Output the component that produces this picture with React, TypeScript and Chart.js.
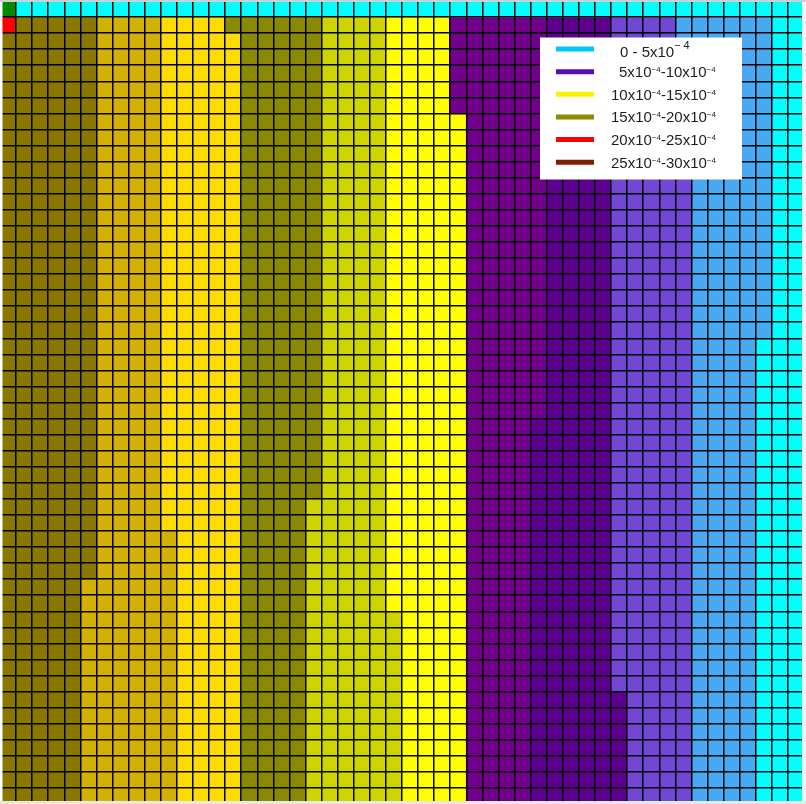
import React, { useEffect, useRef } from "react";
import { Chart, registerables } from "chart.js";

Chart.register(...registerables);

// Colour classes used in the grid (key -> colour)
const classKeys = ["c", "g", "r", "D", "G", "Y", "O", "L", "y", "p", "P", "m", "b"];
const classColors = [
  "#00FFFF", // c cyan
  "#008A00", // g green
  "#FF0000", // r red
  "#8A7700", // D dark olive
  "#D3B100", // G gold
  "#FFDC00", // Y golden yellow
  "#8A8A00", // O olive
  "#CDD400", // L yellow-green
  "#FFFF00", // y yellow
  "#72008A", // p purple
  "#5C008D", // P dark purple
  "#7147D3", // m medium purple
  "#48A9F2", // b light blue
];

// Row patterns (one letter per column, 50 columns; spaces only for readability)
const R0 = "g ccccc ccccc ccccc ccccc ccccc ccccc ccccc ccccc ccccc cccc";
const P1 = "r DDDDD GGGG YYYY OOOOOO LLLL yyyy pppppp PPPP mmmm bbbbbb cc";
const P2 = "DDDDDD GGGG YYYYY OOOOO LLLL yyyy pppppp PPPP mmmm bbbbbb cc";
const P3 = "DDDDDD GGGG YYYYY OOOOO LLLL yyyyy ppppp PPPP mmmm bbbbbb cc";
const P4 = "DDDDDD GGGG YYYYY OOOOO LLLL yyyyy ppppp PPPP mmmmm bbbbb cc";
const P5 = "DDDDDD GGGG YYYYY OOOOO LLLL yyyyy ppppp PPPP mmmmm bbbb ccc";
const P6 = "DDDDDD GGGG YYYYY OOOOO LLLL yyyyy pppp PPPPP mmmmm bbbb ccc";
const P7 = "DDDDDD GGGG YYYYY OOOO LLLLL yyyyy pppp PPPPP mmmmm bbbb ccc";
const P8 = "DDDDDD GGGGG YYYY OOOO LLLLL yyyyy pppp PPPPP mmmmm bbbb ccc";
const P9 = "DDDDD GGGGGG YYYY OOOO LLLLL yyyyy pppp PPPPP mmmmm bbbb ccc";
const P10 = "DDDDD GGGGGG YYYY OOOO LLLLLL yyyy pppp PPPPP mmmmm bbbb ccc";
const P11 = "DDDDD GGGGGG YYYY OOOO LLLLLL yyyy pppp PPPPPP mmmm bbbb ccc";

// Rows from top (row 0) to bottom (row 49)
const gridRows = [
  R0, P1,
  P2, P2, P2, P2, P2,
  P3, P3, P3, P3,
  P4, P4, P4, P4, P4, P4, P4, P4, P4, P4,
  P5, P5, P5, P5, P5,
  P6, P6, P6, P6, P6,
  P7, P7,
  P8, P8, P8,
  P9, P9,
  P10, P10, P10, P10, P10,
  P11, P11, P11, P11, P11, P11, P11,
];

const columnLabels = Array.from({ length: 50 }, (_, i) => String(i + 1));

// Legend
const legendLabels = [
  "0 - 5x10^{−4}",
  "5x10^{−4}-10x10^{−4}",
  "10x10^{−4}-15x10^{−4}",
  "15x10^{−4}-20x10^{−4}",
  "20x10^{−4}-25x10^{−4}",
  "25x10^{−4}-30x10^{−4}",
];
const legendColors = ["#00C6FF", "#5B0DB5", "#F4F400", "#8C8C00", "#FF0000", "#7E1E05"];

const FONT = '"Liberation Sans", Arial, Helvetica, sans-serif';

function drawRich(
  ctx: CanvasRenderingContext2D,
  str: string,
  x: number,
  baseline: number,
  baseSize: number,
  supSize: number,
  raise: number,
  supSpacing: string
) {
  const parts = str.split(/(\^\{[^}]*\})/).filter((p) => p.length > 0);
  let cx = x;
  for (const p of parts) {
    const isSup = p.startsWith("^{");
    const t = isSup ? p.slice(2, -1) : p;
    ctx.font = `${isSup ? supSize : baseSize}px ${FONT}`;
    (ctx as any).letterSpacing = isSup ? supSpacing : "0px";
    ctx.fillText(t, cx, isSup ? baseline - raise : baseline);
    cx += ctx.measureText(t).width;
  }
  (ctx as any).letterSpacing = "0px";
}

const framePlugin = {
  id: "frameAndLegend",
  afterDraw(chart: any) {
    const ctx: CanvasRenderingContext2D = chart.ctx;
    const W = chart.width;
    const H = chart.height;
    ctx.save();
    // outer frame strips
    ctx.fillStyle = "#ffffff";
    ctx.fillRect(0, 0, 2.5, H);
    ctx.fillStyle = "#f3f3f3";
    ctx.fillRect(802, 0, W - 802, H);
    ctx.fillStyle = "#cfcfcf";
    ctx.fillRect(0, 0, W, 2);
    ctx.fillStyle = "#e8e8e8";
    ctx.fillRect(0, 801, W, H - 801);

    // legend box
    ctx.fillStyle = "#ffffff";
    ctx.fillRect(540, 37.5, 202, 142);
    const indent = [9, 8, 0, 0, 0, 0];
    legendLabels.forEach((label, i) => {
      const ly = 49 + 22.65 * i;
      ctx.strokeStyle = legendColors[i];
      ctx.lineWidth = 5;
      ctx.lineCap = "butt";
      ctx.beginPath();
      ctx.moveTo(556, ly);
      ctx.lineTo(594, ly);
      ctx.stroke();
      ctx.fillStyle = "#1e1e1e";
      ctx.textBaseline = "alphabetic";
      ctx.textAlign = "left";
      if (i === 0) {
        drawRich(ctx, label, 611 + indent[i], ly + 7.7, 15, 11, 7.5, "3px");
      } else {
        drawRich(ctx, label, 611 + indent[i], ly + 5.5, 15, 8, 5, "0px");
      }
    });
    ctx.restore();
  },
};

export default function App() {
  const canvasRef = useRef<HTMLCanvasElement | null>(null);

  useEffect(() => {
    if (!canvasRef.current) return;
    const rows = gridRows.map((r) => r.replace(/ /g, ""));
    const colorOf = (k: string) => classColors[classKeys.indexOf(k)];
    const datasets = rows.map((row, r) => ({
      label: `row ${r + 1}`,
      data: columnLabels.map(() => [r, r + 1]),
      backgroundColor: row.split("").map(colorOf),
      borderWidth: 0,
      borderSkipped: false,
      inflateAmount: 0.4,
      grouped: false,
      barPercentage: 1,
      categoryPercentage: 1,
    }));

    const gridOpts = {
      color: "#000000",
      lineWidth: 1.5,
      drawTicks: false,
      z: 1,
    };

    const chart = new Chart(canvasRef.current, {
      type: "bar",
      data: { labels: columnLabels, datasets: datasets as any },
      options: {
        animation: false,
        responsive: false,
        maintainAspectRatio: false,
        devicePixelRatio: 1,
        events: [],
        layout: { padding: { left: 0, top: 1, right: 2, bottom: 0 } },
        plugins: {
          legend: { display: false },
          tooltip: { enabled: false },
        },
        scales: {
          x: {
            type: "category",
            display: true,
            offset: true,
            ticks: { display: false, autoSkip: false },
            grid: { ...gridOpts, offset: true },
            border: { display: false },
            afterFit: (s: any) => {
              s.height = 0;
            },
          },
          y: {
            type: "linear",
            display: true,
            min: 0,
            max: 50,
            reverse: true,
            ticks: { display: false, stepSize: 1, maxTicksLimit: 100 },
            grid: gridOpts,
            border: { display: false },
            afterFit: (s: any) => {
              s.width = 0;
            },
          },
        },
      } as any,
      plugins: [framePlugin],
    });
    return () => chart.destroy();
  }, []);

  return (
    <div style={{ position: "absolute", left: 0, top: 0, width: 806, height: 804, background: "#fff" }}>
      <canvas ref={canvasRef} width={806} height={804} style={{ display: "block", width: 806, height: 804 }} />
    </div>
  );
}
